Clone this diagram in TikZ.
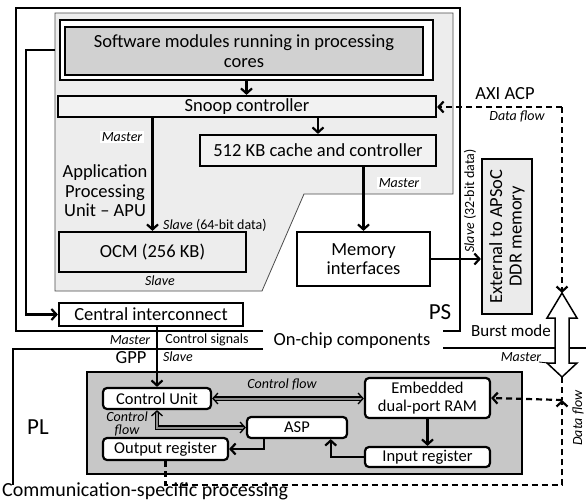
\documentclass[tikz,border=0pt]{standalone}
\usepackage{fontspec}
\setmainfont{Carlito}
\usetikzlibrary{arrows.meta,calc}
\begin{document}
\begin{tikzpicture}[x=1pt,y=-1pt,
  big/.style={font=\fontsize{18.5}{19.5}\selectfont},
  mid/.style={font=\fontsize{16.5}{18}\selectfont},
  sml/.style={font=\fontsize{14}{15}\selectfont},
  smit/.style={font=\fontsize{14}{14}\selectfont\itshape},
  huge/.style={font=\fontsize{23}{24}\selectfont},
  box/.style={draw, line width=2.2pt, inner sep=0pt, align=center, big},
  rbox/.style={draw, line width=2.2pt, inner sep=0pt, align=center, rounded corners=4pt, fill=white, mid},
  arr/.style={line width=2.2pt,-{Straight Barb[length=5pt,width=11pt]}},
  darr/.style={line width=1.3pt, double=black!45, double distance=2pt,{Straight Barb[length=5pt,width=11pt]}-{Straight Barb[length=5pt,width=11pt]}},
  dline/.style={line width=2.2pt, dash pattern=on 6pt off 4pt},
  dasharr/.style={line width=2.2pt, dash pattern=on 6pt off 4pt,-{Straight Barb[length=5pt,width=11pt]}},
  frame/.style={line width=2.2pt}
]
\useasboundingbox (0,0) rectangle (586,501);
\fill[white] (0,0) rectangle (586,501);

% PS frame
\draw[frame] (263,331) -- (16,331) -- (16,8) -- (460,8) -- (460,331) -- (443,331);
% PL frame
\draw[frame] (263,349) -- (13,349) -- (13,485);
\draw[frame] (443,348) -- (586,348);

% APU region
\draw[black!70, line width=0.8pt, fill=black!7] (55,13) -- (453,13) -- (453,194) -- (304,194) -- (262,291) -- (55,291) -- cycle;
\coordinate (apul) at (55,50);

% Software modules
\node (swout) [box, fill=white, minimum width=373, minimum height=60] at (246.5,50) {};
\node (swin) [box, fill=black!18, minimum width=358, minimum height=48] at (244,51) {Software modules running in processing\\cores};

\node (snoop) [box, fill=black!5, minimum width=378, minimum height=21] at (247,106.5) {Snoop controller};
\node (cache) [box, fill=black!5, minimum width=236, minimum height=31] at (318,150.5) {512 KB cache and controller};
\node (ocm) [box, fill=black!7, minimum width=187, minimum height=40] at (152.5,252) {OCM (256 KB)};
\node (mem) [box, fill=white, minimum width=133, minimum height=54] at (363.5,259) {Memory\\interfaces};
\node (ext) [box, fill=black!8, rotate=90, minimum width=155, minimum height=50] at (507,236.5) {External to APSoC\\DDR memory};
\node (ci) [box, fill=white, minimum width=184, minimum height=23] at (151,314.5) {Central interconnect};

% texts in PS
\node (apu) [big, align=center, inner sep=0pt] at (105,191) {Application\\Processing\\Unit -- APU};
\node (m1) [smit, fill=white, inner sep=1.5pt] at (122,137) {Master};
\node (s1) [sml, anchor=west, inner sep=0pt] at (163,225) {\textit{Slave} (64-bit data)};
\node (m2) [smit, fill=white, inner sep=1.5pt] at (399,183) {Master};
\node (s2) [smit, inner sep=0pt] at (160,281) {Slave};
\node (s3) [sml, rotate=90, inner sep=0pt] at (470,201) {\textit{Slave} (32-bit data)};
\node (ps) [huge, inner sep=0pt] at (440,312) {PS};

% arrows PS
\draw[arr] (swout.south) -- (swout.south |- snoop.north);
\draw[arr] (snoop.south -| ocm.north) -- (ocm.north);
\draw[arr] (snoop.south -| cache.north) -- (cache.north);
\draw[arr] (cache.south -| mem.north) -- (mem.north);
\draw[arr] (mem.east) -- (mem.east -| ext.north);
\draw[arr] (apul) -- (26,50) |- (ci.west);

% AXI ACP
\coordinate (axi) at (562,107);
\node (axil) [big, inner sep=0pt] at (505,94) {AXI ACP};
\node (df1) [smit, inner sep=0pt] at (517,117) {Data flow};
\draw[dasharr] (axi) -- (axi -| snoop.east);

% double hollow arrow
\coordinate (dtop) at (562,293);
\coordinate (dbot) at (562,377);
\draw[line width=1.5pt, fill=white] (dtop) -- (577,318) -- (569,318) -- (569,363) -- (577,363) -- (dbot) -- (547,363) -- (555,363) -- (555,318) -- (547,318) -- cycle;
\draw[dasharr] (axi) -- (dtop);

\node (burst) [font=\fontsize{17}{18}\selectfont, inner sep=0pt] at (511,331) {Burst mode};
\node (onchip) [big, inner sep=0pt] at (352,341) {On-chip components};
\node (m3) [smit, inner sep=0pt] at (521,357) {Master};
\draw[line width=0.8pt] (539,362) -- (548,363);
\node (df2) [smit, rotate=90, inner sep=0pt] at (578,418) {Data flow};

% interconnect labels
\node (m4) [smit, inner sep=0pt] at (130,340) {Master};
\node (cs) [sml, inner sep=0pt] at (207,340) {Control signals};
\node (gpp) [big, inner sep=0pt] at (131,358) {GPP};
\node (s4) [smit, inner sep=0pt] at (178,357) {Slave};
\node (pl) [huge, inner sep=0pt] at (38,427) {PL};
\node (csp) [font=\fontsize{20}{21}\selectfont, anchor=base west, inner sep=0pt] at (2,496) {Communication-specific processing};

% ASP region
\draw[line width=2.2pt, fill=black!22] (87,372) rectangle (522,474);
\node (cu) [rbox, minimum width=108, minimum height=21] at (157,398.5) {Control Unit};
\node (ram) [rbox, minimum width=125, minimum height=40] at (427.5,398) {Embedded\\dual-port RAM};
\node (asp) [rbox, minimum width=100, minimum height=21] at (297,427.5) {ASP};
\node (outr) [rbox, minimum width=125, minimum height=22] at (165.5,449) {Output register};
\node (inr) [rbox, minimum width=125, minimum height=20] at (427.5,457) {Input register};
\node (cf1) [smit, inner sep=0pt] at (282,384) {Control flow};
\node (cf2) [align=center, inner sep=0pt, font=\fontsize{14}{13}\selectfont\itshape] at (127,424) {Control\\flow};

\draw[arr] (ci.south -| cu.north) -- (cu.north);
\draw[darr] (cu.east) -- (cu.east -| ram.west);
\draw[darr] (cu.south) |- (asp.west);
\draw[arr] ($(asp.south west)!0.18!(asp.south east)$) |- (outr.east);
\draw[arr] (ram.south) -- (inr.north);
\draw[arr] (inr.west) -| ($(asp.south west)!0.83!(asp.south east)$);

% lower dashed
\coordinate (j) at (562,400);
\coordinate (bc) at (562,485);
\draw[dline] (dbot) -- (j);
\draw[dasharr] (outr.south) |- (bc) -- (j);
\draw[dasharr] (j) -- (ram.east);
\end{tikzpicture}
\end{document}
